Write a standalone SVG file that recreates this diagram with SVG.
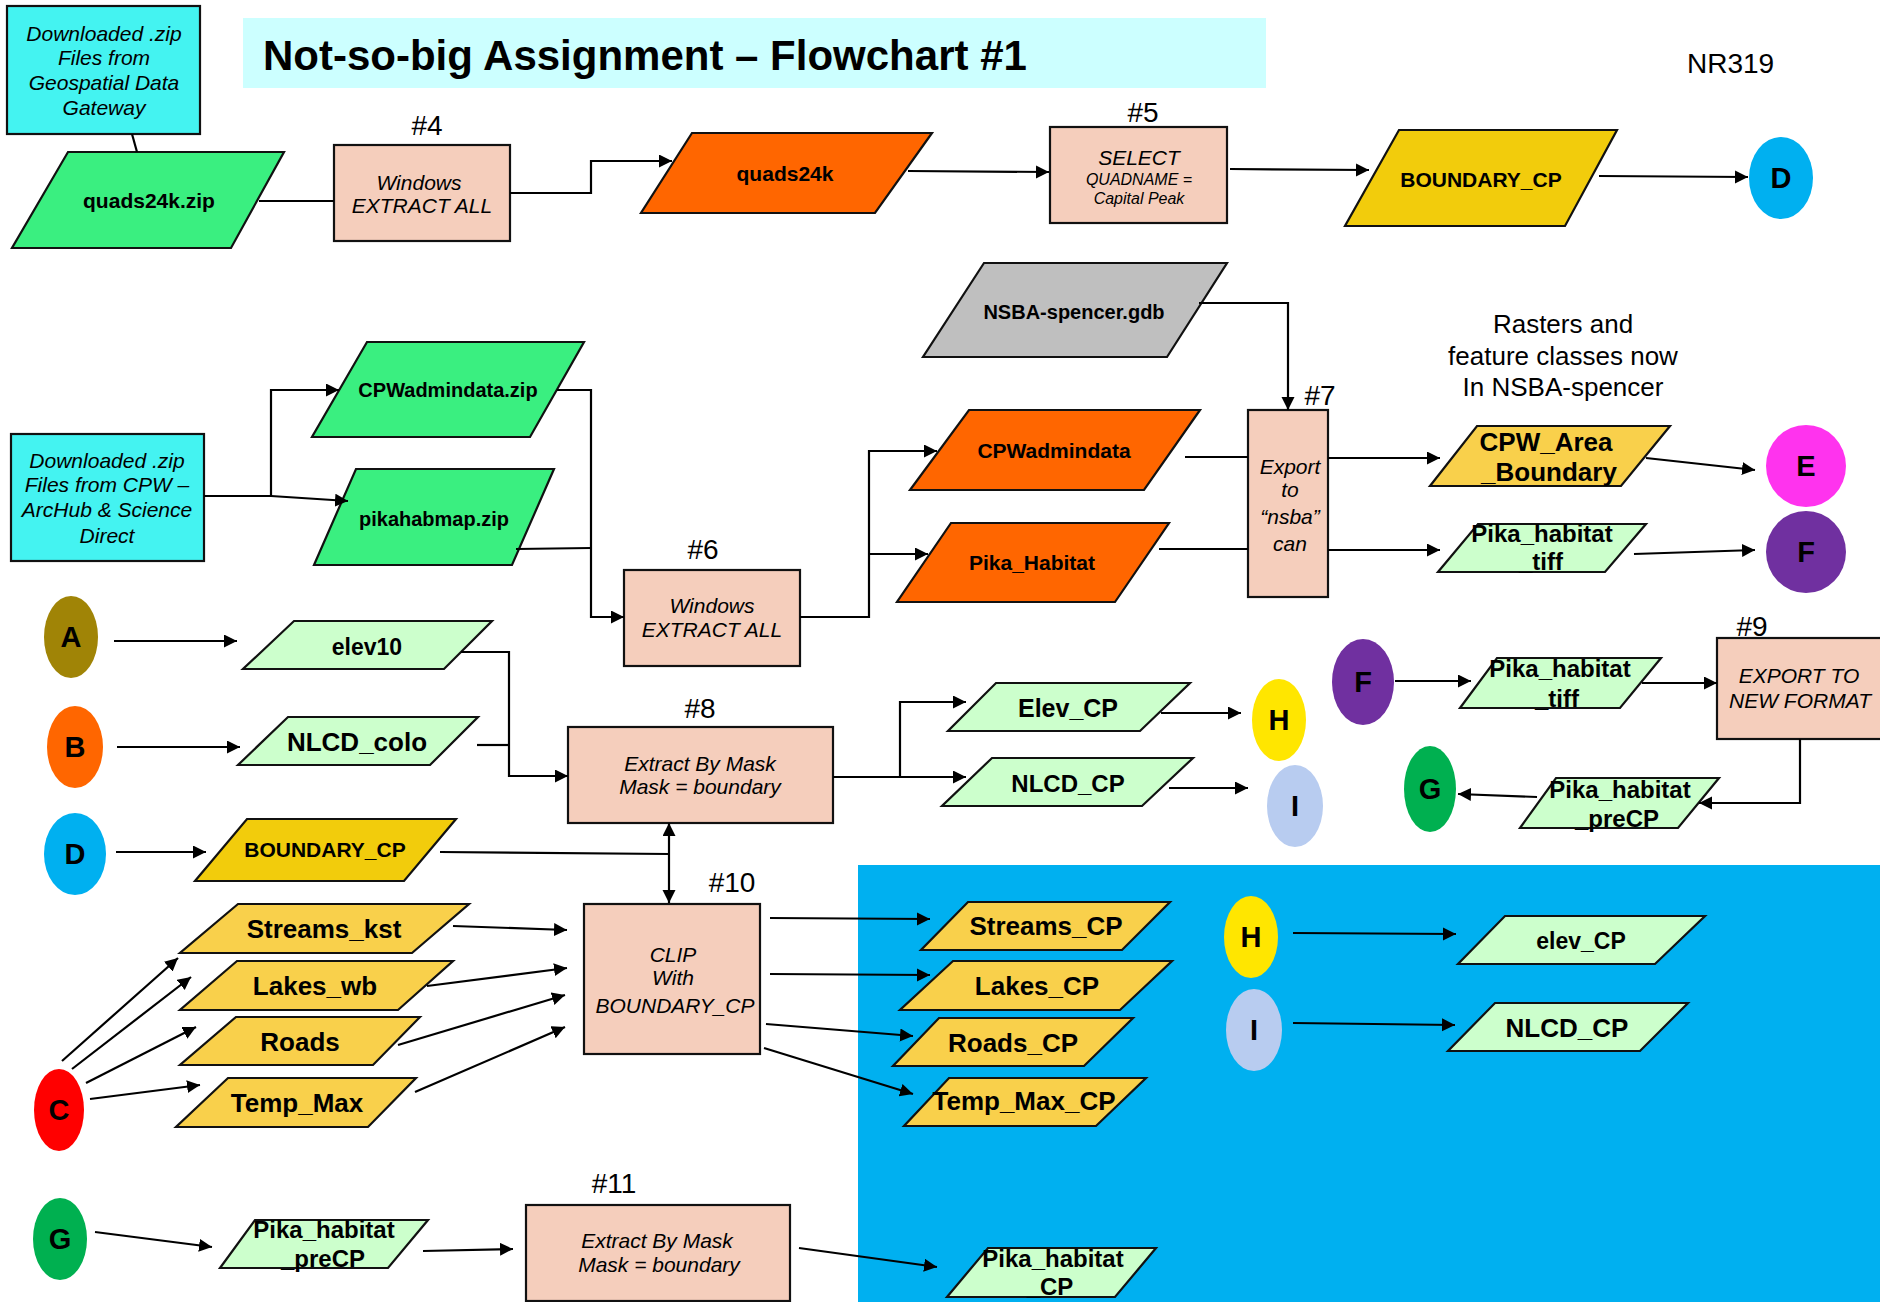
<svg xmlns="http://www.w3.org/2000/svg" width="1880" height="1302" viewBox="0 0 1880 1302">
<defs>
<marker id="ah" markerUnits="userSpaceOnUse" markerWidth="14" markerHeight="14" refX="13" refY="6.5" orient="auto">
<path d="M0,0 L13,6.5 L0,13 z" fill="#000"/>
</marker>
<style>
text{font-family:"Liberation Sans",Arial,sans-serif;fill:#000}
.b{font-weight:bold;text-anchor:middle}
.it{font-style:italic;text-anchor:middle;font-size:21px}
.it.sm{font-size:16px}
.hn{font-size:28px;text-anchor:middle}
.cl{font-weight:bold;text-anchor:middle;font-size:29px}
.sh{stroke:#111;stroke-width:2.2}
.bx{fill:#F5CEBC;stroke:#111;stroke-width:2.2}
.cy{fill:#44F3F1;stroke:#111;stroke-width:2.2}
.zip{fill:#3AEF80}
.org{fill:#FF6600}
.gry{fill:#BFBFBF}
.gld{fill:#F2CC0C}
.ylw{fill:#F9D04B}
.lg{fill:#CCFFCC}
.cn line,.cn polyline{stroke:#000;stroke-width:2.2;fill:none}
.ar{marker-end:url(#ah)}
</style>
</defs>
<rect width="1880" height="1302" fill="#fff"/>
<rect x="858" y="865" width="1022" height="437" fill="#00B0F0"/>
<rect x="243" y="18" width="1023" height="70" fill="#CCFFFF"/>
<text x="263" y="70" font-size="42" font-weight="bold">Not-so-big Assignment – Flowchart #1</text>
<text x="1687" y="73" font-size="28">NR319</text>
<text x="1563" y="333" font-size="26" text-anchor="middle">Rasters and</text>
<text x="1563" y="365" font-size="26" text-anchor="middle">feature classes now</text>
<text x="1563" y="396" font-size="26" text-anchor="middle">In NSBA-spencer</text>
<text class="hn" x="427" y="135">#4</text>
<text class="hn" x="1143" y="122">#5</text>
<text class="hn" x="703" y="559">#6</text>
<text class="hn" x="1320" y="405">#7</text>
<text class="hn" x="700" y="718">#8</text>
<text class="hn" x="1752" y="636">#9</text>
<text class="hn" x="732" y="892">#10</text>
<text class="hn" x="614" y="1193">#11</text>

<g id="src-gateway"><rect class="cy" x="7" y="6" width="193" height="128"/>
<text class="it" x="104" y="41">Downloaded .zip</text><text class="it" x="104" y="65">Files from</text><text class="it" x="104" y="90">Geospatial Data</text><text class="it" x="104" y="115">Gateway</text></g>
<g id="quads24k-zip"><polygon class="sh zip" points="68,152 284,152 231,248 12,248"/><text class="b" x="149" y="208" font-size="21">quads24k.zip</text></g>
<g id="step4"><rect class="bx" x="334" y="145" width="176" height="96"/><text class="it" x="419" y="190">Windows</text><text class="it" x="422" y="213">EXTRACT ALL</text></g>
<g id="quads24k"><polygon class="sh org" points="692,133 932,133 875,213 641,213"/><text class="b" x="785" y="181" font-size="21">quads24k</text></g>
<g id="step5"><rect class="bx" x="1050" y="127" width="177" height="96"/><text class="it" x="1139" y="165">SELECT</text><text class="it sm" x="1139" y="185">QUADNAME =</text><text class="it sm" x="1139" y="204">Capital Peak</text></g>
<g id="boundary-top"><polygon class="sh gld" points="1399,130 1617,130 1565,226 1345,226"/><text class="b" x="1481" y="187" font-size="21">BOUNDARY_CP</text></g>
<g id="d-top"><ellipse cx="1781" cy="178" rx="32" ry="41" fill="#00B0F0"/><text class="cl" x="1781" y="188">D</text></g>

<g id="nsba-gdb"><polygon class="sh gry" points="984,263 1227,263 1167,357 923,357"/><text class="b" x="1074" y="319" font-size="20">NSBA-spencer.gdb</text></g>
<g id="src-cpw"><rect class="cy" x="11" y="434" width="193" height="127"/>
<text class="it" x="107" y="468">Downloaded .zip</text><text class="it" x="107" y="492">Files from CPW –</text><text class="it" x="107" y="517">ArcHub &amp; Science</text><text class="it" x="107" y="543">Direct</text></g>
<g id="cpwadmindata-zip"><polygon class="sh zip" points="367,342 584,342 530,437 312,437"/><text class="b" x="448" y="397" font-size="20">CPWadmindata.zip</text></g>
<g id="pikahabmap-zip"><polygon class="sh zip" points="356,469 554,469 512,565 314,565"/><text class="b" x="434" y="526" font-size="20">pikahabmap.zip</text></g>
<g id="step6"><rect class="bx" x="624" y="570" width="176" height="96"/><text class="it" x="712" y="613">Windows</text><text class="it" x="712" y="637">EXTRACT ALL</text></g>
<g id="cpwadmindata"><polygon class="sh org" points="969,410 1200,410 1144,490 910,490"/><text class="b" x="1054" y="458" font-size="21">CPWadmindata</text></g>
<g id="pika-habitat"><polygon class="sh org" points="951,523 1169,523 1115,602 897,602"/><text class="b" x="1032" y="570" font-size="21">Pika_Habitat</text></g>
<g id="step7"><rect class="bx" x="1248" y="410" width="80" height="187"/><text class="it" x="1290" y="474">Export</text><text class="it" x="1290" y="497">to</text><text class="it" x="1290" y="524">“nsba”</text><text class="it" x="1290" y="551">can</text></g>
<g id="cpw-area-boundary"><polygon class="sh ylw" points="1477,426 1670,426 1621,486 1430,486"/><text class="b" x="1546" y="451" font-size="26">CPW_Area</text><text class="b" x="1549" y="481" font-size="26">_Boundary</text></g>
<g id="pika-tiff-1"><polygon class="sh lg" points="1478,524 1646,524 1605,572 1438,572"/><text class="b" x="1542" y="542" font-size="24">Pika_habitat</text><text class="b" x="1541" y="570" font-size="24">_tiff</text></g>
<g id="e-node"><ellipse cx="1806" cy="466" rx="40" ry="41" fill="#FF33EE"/><text class="cl" x="1806" y="476">E</text></g>
<g id="f-node-1"><ellipse cx="1806" cy="552" rx="40" ry="41" fill="#7030A0"/><text class="cl" x="1806" y="562">F</text></g>

<g id="a-node"><ellipse cx="71" cy="637" rx="27" ry="41" fill="#A08406"/><text class="cl" x="71" y="647">A</text></g>
<g id="b-node"><ellipse cx="75" cy="747" rx="28" ry="41" fill="#FF6600"/><text class="cl" x="75" y="757">B</text></g>
<g id="d-node"><ellipse cx="75" cy="854" rx="31" ry="41" fill="#00B0F0"/><text class="cl" x="75" y="864">D</text></g>
<g id="elev10"><polygon class="sh lg" points="294,621 492,621 444,669 243,669"/><text class="b" x="367" y="655" font-size="23">elev10</text></g>
<g id="nlcd-colo"><polygon class="sh lg" points="288,717 478,717 430,765 238,765"/><text class="b" x="357" y="751" font-size="26">NLCD_colo</text></g>
<g id="boundary-left"><polygon class="sh gld" points="247,819 456,819 404,881 195,881"/><text class="b" x="325" y="857" font-size="21">BOUNDARY_CP</text></g>
<g id="step8"><rect class="bx" x="568" y="727" width="265" height="96"/><text class="it" x="700" y="771">Extract By Mask</text><text class="it" x="700" y="794">Mask = boundary</text></g>
<g id="elev-cp"><polygon class="sh lg" points="996,683 1190,683 1140,731 948,731"/><text class="b" x="1068" y="717" font-size="25">Elev_CP</text></g>
<g id="nlcd-cp"><polygon class="sh lg" points="992,758 1193,758 1142,806 942,806"/><text class="b" x="1068" y="792" font-size="24">NLCD_CP</text></g>
<g id="h-node-1"><ellipse cx="1279" cy="720" rx="27" ry="41" fill="#FFE600"/><text class="cl" x="1279" y="730">H</text></g>
<g id="i-node-1"><ellipse cx="1295" cy="806" rx="28" ry="41" fill="#B8CCF0"/><text class="cl" x="1295" y="816">I</text></g>
<g id="f-node-2"><ellipse cx="1363" cy="682" rx="31" ry="43" fill="#7030A0"/><text class="cl" x="1363" y="692">F</text></g>
<g id="pika-tiff-2"><polygon class="sh lg" points="1497,658 1661,658 1620,708 1460,708"/><text class="b" x="1560" y="677" font-size="24">Pika_habitat</text><text class="b" x="1557" y="707" font-size="24">_tiff</text></g>
<g id="step9"><rect class="bx" x="1717" y="638" width="170" height="101"/><text class="it" x="1799" y="683">EXPORT TO</text><text class="it" x="1800" y="708">NEW FORMAT</text></g>
<g id="pika-precp-right"><polygon class="sh lg" points="1556,778 1719,778 1678,828 1520,828"/><text class="b" x="1620" y="798" font-size="24">Pika_habitat</text><text class="b" x="1617" y="827" font-size="24">_preCP</text></g>
<g id="g-node-1"><ellipse cx="1430" cy="789" rx="26" ry="43" fill="#00B050"/><text class="cl" x="1430" y="799">G</text></g>

<g id="c-node"><ellipse cx="59" cy="1110" rx="25" ry="41" fill="#FF0000"/><text class="cl" x="59" y="1120">C</text></g>
<g id="streams-kst"><polygon class="sh ylw" points="238,904 469,904 412,953 180,953"/><text class="b" x="324" y="938" font-size="26">Streams_kst</text></g>
<g id="lakes-wb"><polygon class="sh ylw" points="237,961 453,961 398,1010 180,1010"/><text class="b" x="315" y="995" font-size="26">Lakes_wb</text></g>
<g id="roads"><polygon class="sh ylw" points="236,1017 420,1017 373,1065 180,1065"/><text class="b" x="300" y="1051" font-size="26">Roads</text></g>
<g id="temp-max"><polygon class="sh ylw" points="228,1078 416,1078 368,1127 176,1127"/><text class="b" x="297" y="1112" font-size="26">Temp_Max</text></g>
<g id="step10"><rect class="bx" x="584" y="904" width="176" height="150"/><text class="it" x="673" y="962">CLIP</text><text class="it" x="673" y="985">With</text><text class="it" x="675" y="1013">BOUNDARY_CP</text></g>
<g id="streams-cp"><polygon class="sh ylw" points="968,902 1170,902 1122,950 921,950"/><text class="b" x="1046" y="935" font-size="26">Streams_CP</text></g>
<g id="lakes-cp"><polygon class="sh ylw" points="953,961 1172,961 1120,1010 900,1010"/><text class="b" x="1037" y="995" font-size="26">Lakes_CP</text></g>
<g id="roads-cp"><polygon class="sh ylw" points="939,1018 1133,1018 1084,1066 893,1066"/><text class="b" x="1013" y="1052" font-size="26">Roads_CP</text></g>
<g id="temp-max-cp"><polygon class="sh ylw" points="949,1078 1146,1078 1096,1126 904,1126"/><text class="b" x="1024" y="1110" font-size="26">Temp_Max_CP</text></g>
<g id="h-node-2"><ellipse cx="1251" cy="937" rx="27" ry="41" fill="#FFE600"/><text class="cl" x="1251" y="947">H</text></g>
<g id="i-node-2"><ellipse cx="1254" cy="1030" rx="28" ry="41" fill="#B8CCF0"/><text class="cl" x="1254" y="1040">I</text></g>
<g id="elev-cp-out"><polygon class="sh lg" points="1505,916 1705,916 1655,964 1458,964"/><text class="b" x="1581" y="949" font-size="23">elev_CP</text></g>
<g id="nlcd-cp-out"><polygon class="sh lg" points="1495,1003 1688,1003 1640,1051 1448,1051"/><text class="b" x="1567" y="1037" font-size="26">NLCD_CP</text></g>

<g id="g-node-2"><ellipse cx="60" cy="1239" rx="27" ry="41" fill="#00B050"/><text class="cl" x="60" y="1249">G</text></g>
<g id="pika-precp-left"><polygon class="sh lg" points="255,1220 428,1220 388,1268 220,1268"/><text class="b" x="324" y="1238" font-size="24">Pika_habitat</text><text class="b" x="323" y="1267" font-size="24">_preCP</text></g>
<g id="step11"><rect class="bx" x="526" y="1205" width="264" height="96"/><text class="it" x="657" y="1248">Extract By Mask</text><text class="it" x="659" y="1272">Mask = boundary</text></g>
<g id="pika-cp"><polygon class="sh lg" points="988,1248 1156,1248 1115,1297 947,1297"/><text class="b" x="1053" y="1267" font-size="24">Pika_habitat</text><text class="b" x="1050" y="1295" font-size="24">_CP</text></g>

<g id="connectors" class="cn">
<line x1="132" y1="134" x2="137" y2="152"/>
<line x1="259" y1="201" x2="334" y2="201"/>
<polyline class="ar" points="510,193 591,193 591,161 672,161"/>
<line class="ar" x1="908" y1="171" x2="1049" y2="172"/>
<line class="ar" x1="1230" y1="169" x2="1369" y2="170"/>
<line class="ar" x1="1599" y1="176" x2="1748" y2="177"/>
<polyline class="ar" points="1199,303 1288,303 1288,410"/>
<polyline class="ar" points="204,496 271,496 271,390 339,390"/>
<line class="ar" x1="271" y1="496" x2="348" y2="501"/>
<polyline class="ar" points="557,390 591,390 591,617 624,617"/>
<line x1="516" y1="549" x2="591" y2="548"/>
<polyline class="ar" points="800,617 869,617 869,451 937,451"/>
<line class="ar" x1="869" y1="554" x2="928" y2="554"/>
<line x1="1185" y1="457" x2="1248" y2="457"/>
<line x1="1159" y1="549" x2="1248" y2="549"/>
<line class="ar" x1="1328" y1="458" x2="1440" y2="458"/>
<line class="ar" x1="1328" y1="550" x2="1440" y2="550"/>
<line class="ar" x1="1646" y1="458" x2="1755" y2="470"/>
<line class="ar" x1="1634" y1="554" x2="1755" y2="550"/>
<line class="ar" x1="114" y1="641" x2="237" y2="641"/>
<line class="ar" x1="117" y1="747" x2="240" y2="747"/>
<polyline class="ar" points="461,652 509,652 509,776 568,776"/>
<line x1="477" y1="745" x2="509" y2="745"/>
<polyline class="ar" points="833,777 900,777 900,702 966,702"/>
<line class="ar" x1="900" y1="777" x2="966" y2="777"/>
<line class="ar" x1="1161" y1="713" x2="1241" y2="713"/>
<line class="ar" x1="1169" y1="788" x2="1248" y2="788"/>
<line class="ar" x1="1395" y1="681" x2="1471" y2="681"/>
<line class="ar" x1="1642" y1="683" x2="1717" y2="683"/>
<polyline class="ar" points="1800,739 1800,803 1699,803"/>
<line class="ar" x1="1537" y1="797" x2="1458" y2="794"/>
<line class="ar" x1="116" y1="852" x2="206" y2="852"/>
<line x1="440" y1="852" x2="669" y2="854"/>
<line class="ar" x1="669" y1="854" x2="669" y2="823"/>
<line class="ar" x1="669" y1="854" x2="669" y2="903"/>
<line class="ar" x1="62" y1="1061" x2="178" y2="958"/>
<line class="ar" x1="72" y1="1069" x2="191" y2="977"/>
<line class="ar" x1="86" y1="1083" x2="196" y2="1027"/>
<line class="ar" x1="90" y1="1099" x2="200" y2="1085"/>
<line class="ar" x1="453" y1="926" x2="567" y2="930"/>
<line class="ar" x1="427" y1="986" x2="567" y2="968"/>
<line class="ar" x1="398" y1="1045" x2="565" y2="995"/>
<line class="ar" x1="415" y1="1092" x2="565" y2="1027"/>
<line class="ar" x1="770" y1="918" x2="930" y2="919"/>
<line class="ar" x1="770" y1="974" x2="930" y2="975"/>
<line class="ar" x1="766" y1="1024" x2="913" y2="1036"/>
<line class="ar" x1="764" y1="1048" x2="913" y2="1094"/>
<line class="ar" x1="1293" y1="933" x2="1456" y2="934"/>
<line class="ar" x1="1293" y1="1023" x2="1455" y2="1025"/>
<line class="ar" x1="95" y1="1232" x2="212" y2="1247"/>
<line class="ar" x1="423" y1="1251" x2="513" y2="1249"/>
<line class="ar" x1="799" y1="1248" x2="937" y2="1267"/>
</g>
</svg>
